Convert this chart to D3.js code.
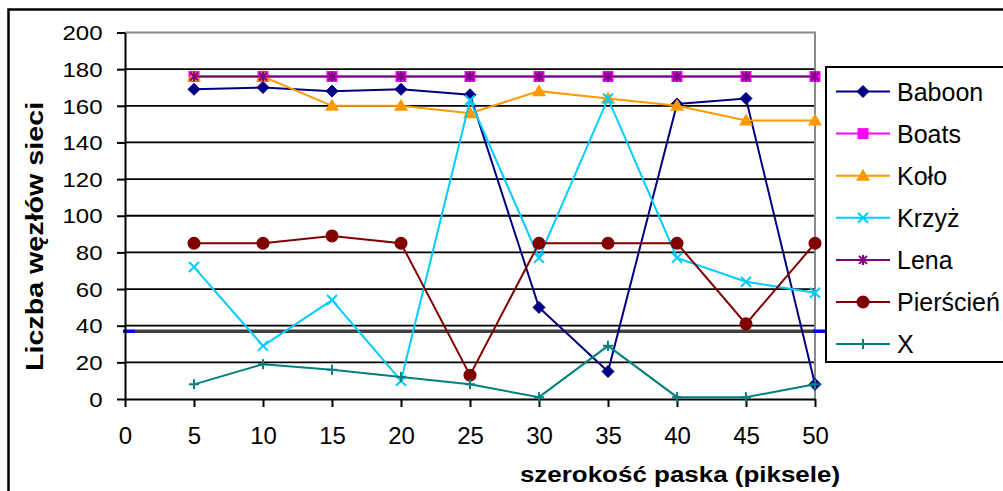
<!DOCTYPE html>
<html>
<head>
<meta charset="utf-8">
<script src="https://cdn.jsdelivr.net/npm/d3@7/dist/d3.min.js"></script>
<style>
  html, body { margin: 0; padding: 0; background: #fff; }
  svg { display: block; }
  text { font-family: "Liberation Sans", Arial, sans-serif; fill: #000; }
</style>
</head>
<body>
<svg id="chart" width="1003" height="491"></svg>
<script>
// Szerokość paska (piksele)
const widths = [5, 10, 15, 20, 25, 30, 35, 40, 45, 50];

// Liczba węzłów sieci for each test image
const baboon    = [169, 170, 168, 169, 166, 50, 15, 161, 164, 8];
const boats     = [176, 176, 176, 176, 176, 176, 176, 176, 176, 176];
const kolo      = [176, 176, 160, 160, 156, 168, 164, 160, 152, 152];
const krzyz     = [72, 29, 54, 10, 163, 77, 164, 77, 64, 58];
const lena      = [176, 176, 176, 176, 176, 176, 176, 176, 176, 176];
const pierscien = [85, 85, 89, 85, 13, 85, 85, 85, 41, 85];
const iks       = [8, 19, 16, 12, 8, 1, 29, 1, 1, 8];

// Horizontal reference level drawn across the plot
const referenceLevel = 37;

const xTicks = [0, 5, 10, 15, 20, 25, 30, 35, 40, 45, 50];
const yTicks = [0, 20, 40, 60, 80, 100, 120, 140, 160, 180, 200];

const seriesNames  = ["Baboon", "Boats", "Koło", "Krzyż", "Lena", "Pierścień", "X"];
const seriesValues = [baboon, boats, kolo, krzyz, lena, pierscien, iks];
const seriesColors = ["#000080", "#ff00ff", "#ff9900", "#00ccff", "#800080", "#800000", "#008080"];
const seriesMarks  = ["diamond", "square", "triangle", "cross", "star", "circle", "plus"];

const svg = d3.select("#chart");

const x = d3.scaleLinear().domain([0, 50]).range([125, 815]);
const y = d3.scaleLinear().domain([0, 200]).range([399, 32.5]);

// outer chart frame
svg.append("rect")
  .attr("x", 8.5).attr("y", 9.5)
  .attr("width", 1100).attr("height", 600)
  .attr("fill", "#fff").attr("stroke", "#000").attr("stroke-width", 2.5);

// gridlines
svg.append("g").selectAll("line")
  .data(yTicks.filter(v => v > 0 && v < 200))
  .join("line")
  .attr("x1", x(0)).attr("x2", x(50))
  .attr("y1", d => y(d)).attr("y2", d => y(d))
  .attr("stroke", "#000").attr("stroke-width", 1.8);

// plot area border (top and right)
svg.append("path")
  .attr("d", `M${x(0)},${y(200)}H${x(50)}V${y(0)}`)
  .attr("fill", "none").attr("stroke", "#8a8a8a").attr("stroke-width", 2);

// reference level
svg.append("line")
  .attr("x1", x(0) + 10).attr("x2", x(50))
  .attr("y1", y(referenceLevel)).attr("y2", y(referenceLevel))
  .attr("stroke", "#404040").attr("stroke-width", 3.5);
[[x(0) - 2, x(0) + 10], [x(50) - 2, x(50) + 10]].forEach(([a, b]) => {
  svg.append("line")
    .attr("x1", a).attr("x2", b)
    .attr("y1", y(referenceLevel)).attr("y2", y(referenceLevel))
    .attr("stroke", "#0000ff").attr("stroke-width", 3.5);
});

// y axis
const yAxis = svg.append("g")
  .attr("transform", `translate(${x(0)},0)`)
  .call(d3.axisLeft(y).tickValues(yTicks).tickSize(8).tickSizeOuter(0));
yAxis.select(".domain").attr("stroke", "#000").attr("stroke-width", 2);
yAxis.selectAll(".tick line").attr("stroke", "#000").attr("stroke-width", 2);
yAxis.selectAll(".tick text")
  .attr("x", 0).attr("dy", "0.36em")
  .attr("transform", "translate(-22.5,0) scale(1.2,1)")
  .style("font-size", "20px").style("font-family", "'Liberation Sans', Arial, sans-serif")
  .attr("fill", "#000");

// x axis
const xAxis = svg.append("g")
  .attr("transform", `translate(0,${y(0)})`)
  .call(d3.axisBottom(x).tickValues(xTicks).tickSize(8).tickSizeOuter(0));
xAxis.select(".domain").attr("stroke", "#000").attr("stroke-width", 2);
xAxis.selectAll(".tick line").attr("stroke", "#000").attr("stroke-width", 2);
xAxis.selectAll(".tick text")
  .attr("y", 45).attr("dy", 0)
  .style("font-size", "24px").style("font-family", "'Liberation Sans', Arial, sans-serif")
  .attr("fill", "#000");

// axis titles
svg.append("text")
  .attr("transform", "translate(680,481.5) scale(1.18,1)")
  .attr("text-anchor", "middle")
  .style("font-size", "22px").style("font-weight", "bold")
  .text("szerokość paska (piksele)");

svg.append("text")
  .attr("transform", "translate(42.5,236.5) rotate(-90) scale(1.22,1)")
  .attr("text-anchor", "middle")
  .style("font-size", "23.5px").style("font-weight", "bold")
  .text("Liczba węzłów sieci");

// marker shapes
function drawMarker(g, type, color) {
  switch (type) {
    case "diamond":
      g.append("path").attr("d", "M0,-6L6,0L0,6L-6,0Z")
        .attr("fill", color).attr("stroke", color).attr("stroke-width", 1);
      break;
    case "square":
      g.append("rect").attr("x", -5.5).attr("y", -5.5).attr("width", 11).attr("height", 11)
        .attr("fill", color);
      break;
    case "triangle":
      g.append("path").attr("d", "M0,-7L7,5L-7,5Z").attr("fill", color);
      break;
    case "cross":
      g.append("path").attr("d", "M-5,-5L5,5M-5,5L5,-5")
        .attr("stroke", color).attr("stroke-width", 2);
      break;
    case "star":
      g.append("path").attr("d", "M-4,-4L4,4M-4,4L4,-4M0,-5V5")
        .attr("stroke", color).attr("stroke-width", 2);
      break;
    case "circle":
      g.append("circle").attr("r", 6.5).attr("fill", color);
      break;
    case "plus":
      g.append("path").attr("d", "M-5,0H5M0,-5V5")
        .attr("stroke", color).attr("stroke-width", 2);
      break;
  }
}

const line = d3.line().x((d, i) => x(widths[i])).y(d => y(d));

// series
seriesValues.forEach((vals, s) => {
  const g = svg.append("g");
  g.append("path")
    .attr("d", line(vals))
    .attr("fill", "none")
    .attr("stroke", seriesColors[s]).attr("stroke-width", 2);
  vals.forEach((v, i) => {
    const m = g.append("g").attr("transform", `translate(${x(widths[i])},${y(v)})`);
    drawMarker(m, seriesMarks[s], seriesColors[s]);
  });
});

// legend
const legend = svg.append("g");
legend.append("rect")
  .attr("x", 826).attr("y", 67)
  .attr("width", 300).attr("height", 295)
  .attr("fill", "#fff").attr("stroke", "#000").attr("stroke-width", 2);

seriesNames.forEach((name, s) => {
  const cy = 91.5 + s * 42.1;
  legend.append("line")
    .attr("x1", 836).attr("x2", 890).attr("y1", cy).attr("y2", cy)
    .attr("stroke", seriesColors[s]).attr("stroke-width", 2);
  const m = legend.append("g").attr("transform", `translate(863,${cy})`);
  drawMarker(m, seriesMarks[s], seriesColors[s]);
  legend.append("text")
    .attr("x", 897).attr("y", cy).attr("dy", "0.36em")
    .style("font-size", "25px")
    .text(name);
});
</script>
</body>
</html>
